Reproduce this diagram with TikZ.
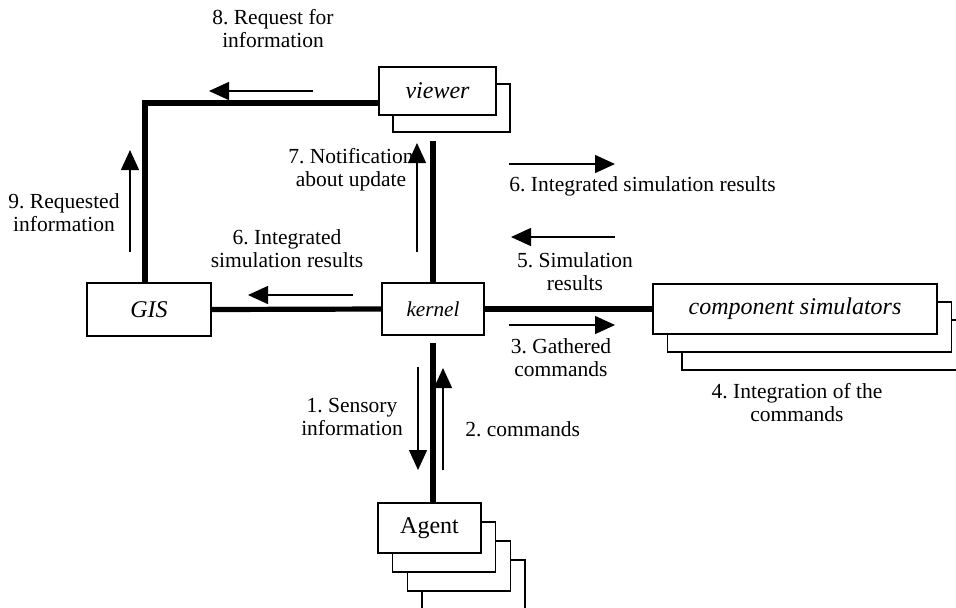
\documentclass[tikz,border=0pt]{standalone}
\usepackage{fontspec}
\setmainfont{Liberation Serif}
\frenchspacing
\usetikzlibrary{arrows.meta,positioning}

\begin{document}
\begin{tikzpicture}[
    x=0.5pt, y=-0.5pt,
    box/.style={draw, fill=white, line width=0.75pt, inner sep=0pt, font=\fontsize{12}{14}\selectfont\itshape},
    link/.style={line width=2.6pt},
    arr/.style={-{Triangle[length=10pt, width=9pt]}, line width=0.7pt},
    lbl/.style={align=center, inner sep=0pt, font=\fontsize{10.75}{11.5}\selectfont}
  ]
    \clip (0,0) rectangle (956,607);

    % copies stacked behind the boxes
    \foreach \i in {3,2,1}
      \node[box, minimum width=51.5pt, minimum height=25pt] (agent\i) at (429.5+14.7*\i, 528+19*\i) {};
    \foreach \i in {2,1}
      \node[box, minimum width=142pt, minimum height=25pt] (comp\i) at (795+14.5*\i, 309+18*\i) {};
    \node[box, minimum width=58.5pt, minimum height=24pt] (viewer1) at (451.5, 108) {};

    \node[box, minimum width=58.5pt, minimum height=24pt] (viewer) at (437.5, 91) {viewer};
    \node[box, minimum width=62pt, minimum height=26.5pt] (GIS) at (149, 309.5) {GIS};
    \node[box, minimum width=51pt, minimum height=26pt, font=\fontsize{10.6}{12}\selectfont\itshape] (kernel) at (433, 309) {kernel};
    \node[box, minimum width=142pt, minimum height=25pt] (comp) at (795, 309) {component simulators};
    \node[box, minimum width=51.5pt, minimum height=25pt, font=\fontsize{12}{14}\selectfont] (agent) at (429.5, 528) {Agent};

    % thick links
    \coordinate (vend) at (432, 141);
    \draw[link] ([yshift=-6pt]viewer.west) -| ([xshift=-2pt]GIS.north);
    \draw[link] (kernel.north) -- (kernel.north |- vend);
    \draw[link] ([yshift=-3.5pt]kernel.south) -- (kernel.south |- agent.north);
    \draw[link] (GIS.east) -- (kernel.west);
    \draw[link] (kernel.east) -- (comp.west);

    % message arrows
    \coordinate (r8) at (313, 91);
    \coordinate (r9) at (130, 252);
    \coordinate (r6l) at (353, 295);
    \coordinate (r7) at (417, 252);
    \coordinate (r6r) at (509, 164);
    \coordinate (r5) at (615, 237);
    \coordinate (r3) at (509, 325);
    \coordinate (r1) at (418, 367);
    \coordinate (r2) at (443, 470);
    \draw[arr] (r8) -- ++(-104, 0);
    \draw[arr] (r9) -- ++(0, -102);
    \draw[arr] (r6l) -- ++(-105, 0);
    \draw[arr] (r7) -- ++(0, -109);
    \draw[arr] (r6r) -- ++(106, 0);
    \draw[arr] (r5) -- ++(-104, 0);
    \draw[arr] (r3) -- ++(106, 0);
    \draw[arr] (r1) -- ++(0, 103);
    \draw[arr] (r2) -- ++(0, -102);

    % labels
    \node[lbl] (l8) at (273, 29) {8. Request for\\information};
    \node[lbl] (l9) at (64, 213) {9. Requested\\information};
    \node[lbl] (l7) at (351, 170) {7. Notification\\about update};
    \node[lbl, anchor=west] (l6r) at (509, 186) {6. Integrated simulation results};
    \node[lbl] (l6l) at (287, 249) {6. Integrated\\simulation results};
    \node[lbl] (l5) at (575, 272) {5. Simulation\\results};
    \node[lbl] (l3) at (561, 358) {3. Gathered\\commands};
    \node[lbl] (l4) at (797, 403) {4. Integration of the\\commands};
    \node[lbl] (l1) at (352, 417) {1. Sensory\\information};
    \node[lbl, anchor=west] (l2) at (465, 429) {2. commands};
  \end{tikzpicture}
\end{document}
